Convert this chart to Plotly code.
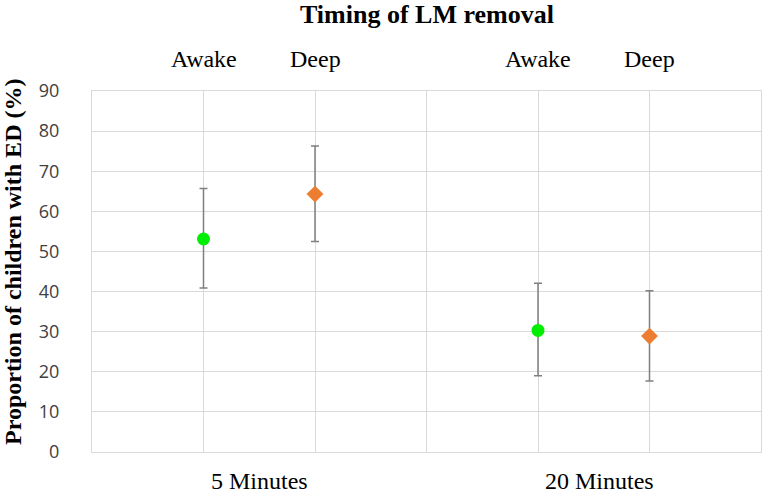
import plotly.graph_objects as go

# positions on the category axis (0..6, one gridline per slot)
groups = ["5 Minutes", "20 Minutes"]
group_pos = [1.5, 4.55]
awake_x = [1, 4]
deep_x = [2, 5]

awake_mean = [53.1, 30.3]
awake_upper = [65.7, 42.1]
awake_lower = [40.9, 19.0]

deep_mean = [64.3, 28.9]
deep_upper = [76.3, 40.2]
deep_lower = [52.5, 17.7]

y_ticks = [0, 10, 20, 30, 40, 50, 60, 70, 80, 90]

SERIF = "Liberation Serif, Times New Roman, serif"
GRID = "#d9d9d9"
ERR = dict(type="data", color="#7f7f7f", thickness=1.5, width=4)


def _err(mean, upper, lower):
    return dict(
        ERR,
        symmetric=False,
        array=[u - m for u, m in zip(upper, mean)],
        arrayminus=[m - l for m, l in zip(mean, lower)],
    )


fig = go.Figure()
fig.add_trace(go.Scatter(
    x=awake_x, y=awake_mean, mode="markers", name="Awake",
    marker=dict(symbol="circle", size=13, color="#00ee00"),
    error_y=_err(awake_mean, awake_upper, awake_lower),
))
fig.add_trace(go.Scatter(
    x=deep_x, y=deep_mean, mode="markers", name="Deep",
    marker=dict(symbol="diamond", size=13, color="#ed7d31"),
    error_y=_err(deep_mean, deep_upper, deep_lower),
))

# pixel positions of the plot area
plot_left, plot_right = 92, 761
plot_top, plot_bottom = 91, 452
W, H = 771, 493
pw = plot_right - plot_left
ph = plot_bottom - plot_top


def _py(pix):
    return (plot_bottom - pix) / ph


def _px(pix):
    return (pix - plot_left) / pw


font = dict(family=SERIF, size=24, color="black")
centered = dict(showarrow=False, xanchor="center", yanchor="middle")
annotations = [
    dict(text="<b>Timing of LM removal</b>", x=0.5, y=_py(14), xref="paper", yref="paper",
         font=dict(family=SERIF, size=26, color="black"), **centered),
]
for xs, lab in ((awake_x, "Awake"), (deep_x, "Deep")):
    for xv in xs:
        annotations.append(dict(text=lab, x=xv, y=_py(59), xref="x", yref="paper",
                                font=font, **centered))
for g, gx in zip(groups, group_pos):
    annotations.append(dict(text=g, x=gx, y=_py(481), xref="x", yref="paper",
                            font=font, **centered))
annotations.append(dict(text="<b>Proportion of children with ED (%)</b>", textangle=-90,
                        x=_px(13), y=_py(262), xref="paper", yref="paper",
                        font=font, **centered))

fig.update_layout(
    width=W, height=H,
    margin=dict(l=plot_left, r=W - plot_right, t=plot_top, b=H - plot_bottom),
    paper_bgcolor="white", plot_bgcolor="white",
    showlegend=False,
    annotations=annotations,
    xaxis=dict(range=[0, 6], tickvals=[0, 1, 2, 3, 4, 5, 6], showticklabels=False,
               showgrid=True, gridcolor=GRID, gridwidth=1, zeroline=False, fixedrange=True,
               showline=True, linecolor=GRID, linewidth=1, mirror=True),
    yaxis=dict(range=[0, 90], tickvals=y_ticks, showgrid=True, gridcolor=GRID, gridwidth=1,
               zeroline=False, ticklabelstandoff=28,
               showline=True, linecolor=GRID, linewidth=1, mirror=True,
               tickfont=dict(family="Open Sans, sans-serif", size=18, color="#404040")),
)

# drop the browser's default 8px body margin so the figure fills the window
fig.write_html("out.html", config={"displayModeBar": False},
               post_script="document.body.style.margin='0';")
